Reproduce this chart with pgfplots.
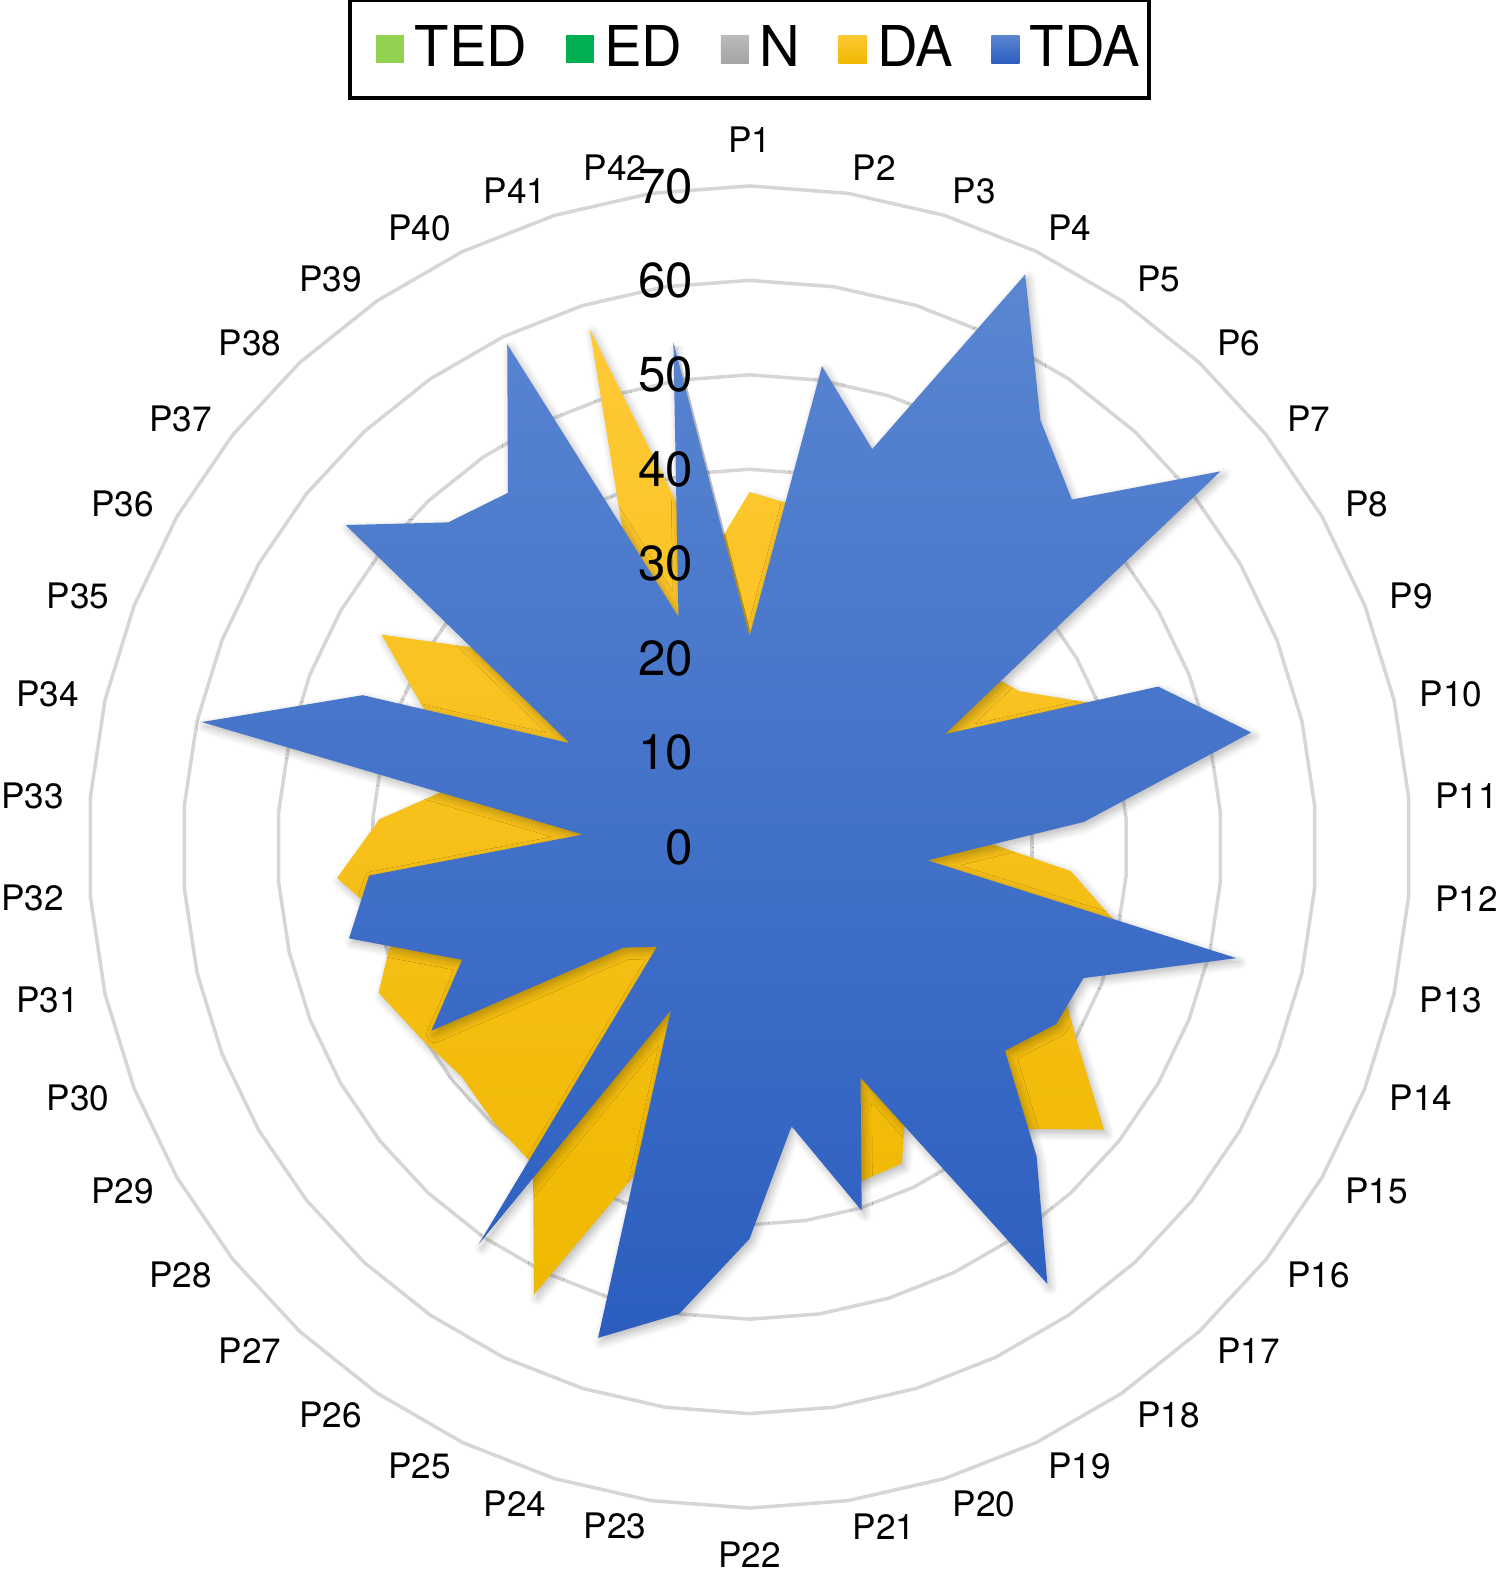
\documentclass[border=0pt]{standalone}
\usepackage{fontspec}
\setmainfont{TeX Gyre Heros}
\usepackage{pgfplots}
\pgfplotsset{compat=1.18}
\usepackage{pgfplotstable}
\usetikzlibrary{shadows.blur}
\definecolor{ringgray}{HTML}{D6D6D6}
\definecolor{tedgreen}{HTML}{92D050}
\definecolor{edgreen}{HTML}{00B050}
\definecolor{ngray}{HTML}{A5A5A5}
\definecolor{datop}{HTML}{FFC936}
\definecolor{dabot}{HTML}{EFB800}
\definecolor{tdatop}{HTML}{5A86D1}
\definecolor{tdabot}{HTML}{2C5EC0}

\pgfplotsset{
  sqimg/.style={legend image code/.code={\path[##1, draw=none] (0cm,-0.14cm) rectangle (0.28cm,0.14cm); \path (0.32cm,0cm);}},
  firstsqimg/.style={legend image code/.code={\path[##1, draw=none] (0cm,-0.14cm) rectangle (0.28cm,0.14cm); \path (-0.24cm,0cm) (0.32cm,0cm);}},
  softshadow/.style={forget plot, draw=none, blur shadow={shadow xshift=0.03cm, shadow yshift=-0.04cm, shadow blur radius=0.08cm, shadow blur steps=6, shadow opacity=28}},
}

% one row per spoke P1..P42, values in chart units (0..70)
\pgfplotstableread{
k TED ED N DA TDA
1 5 3 9 37.6 22.3
2 6 4 11 36.4 51.5
3 4 5 8 34 44.1
4 7 3 12 38 67.3
5 5 6 10 35 54.7
6 3 4 9 32 50.2
7 6 5 13 30.6 63.8
8 4 3 8 33 23.9
9 5 6 11 40.9 46.5
10 7 4 10 33 54.5
11 3 5 9 21.9 35.5
12 4 3 7 34.1 18.9
13 6 5 12 40.8 52.9
14 5 4 10 35 38
15 4 6 11 39.8 37.5
16 6 3 9 48 34.6
17 5 5 12 40.7 44.7
18 7 4 10 29.7 56
19 3 5 8 37.2 27.1
20 5 3 11 37.4 40.3
21 4 4 9 25 29.9
22 6 5 12 35 41.5
23 5 4 10 38 50
24 4 6 11 33.5 54.4
25 3 3 8 52.6 19.2
26 5 4 10 40.7 50.9
27 4 3 7 39.8 14.4
28 3 4 8 39 17.1
29 5 5 11 40.3 38.9
30 6 4 10 42.2 32.7
31 4 5 12 38.6 43.5
32 5 3 11 43.8 40.4
33 3 4 9 39.3 17.7
34 6 5 13 31 59.5
35 5 4 10 36.2 44
36 4 3 9 45 22
37 6 5 12 33.1 54.7
38 5 4 11 30 46.9
39 4 5 10 28 45.4
40 6 3 12 27.7 59.1
41 3 4 8 57.4 25.5
42 5 5 11 30.4 54.1
}\radar

% spoke angle, P1 at the top, clockwise
\newcommand{\ang}{(90-(\thisrow{k}-1)*360/42)}

\begin{document}
\begin{tikzpicture}
% polygon rings behind the series
\foreach \r in {10,20,...,70}{
  \draw[ringgray, line width=1pt] (90:\r*0.09443) \foreach \j in {1,...,41}{ -- ({90-\j*360/42}:\r*0.09443) } -- cycle;
}
\begin{axis}[
  at={(0,0)}, anchor=center,
  scale only axis, width=13.22cm, height=13.22cm,
  xmin=-70, xmax=70, ymin=-70, ymax=70,
  hide axis, clip=false,
  legend columns=5,
  legend style={at={(0.5,1.1036)}, anchor=center, draw=black, line width=1.1pt,
    font=\fontsize{16}{18}\selectfont, inner xsep=0.02cm, inner ysep=0.19cm,
    nodes={inner sep=0.065cm},
    /tikz/every even column/.append style={column sep=0.32cm}},
  sqimg,
]
\addplot[draw=none, fill=tedgreen, firstsqimg]
  table[x expr={\thisrow{TED}*cos\ang}, y expr={\thisrow{TED}*sin\ang}] {\radar};
\addlegendentry{TED}
\addplot[draw=none, fill=edgreen] table[x expr={\thisrow{ED}*cos\ang}, y expr={\thisrow{ED}*sin\ang}] {\radar};
\addlegendentry{ED}
\addplot[draw=none, top color=ngray!75, bottom color=ngray] table[x expr={\thisrow{N}*cos\ang}, y expr={\thisrow{N}*sin\ang}] {\radar};
\addlegendentry{N}
\addplot[softshadow] table[x expr={\thisrow{DA}*cos\ang}, y expr={\thisrow{DA}*sin\ang}] {\radar};
\addplot[draw=none, top color=datop, bottom color=dabot]
  table[x expr={\thisrow{DA}*cos\ang}, y expr={\thisrow{DA}*sin\ang}] {\radar};
\addlegendentry{DA}
\addplot[softshadow] table[x expr={\thisrow{TDA}*cos\ang}, y expr={\thisrow{TDA}*sin\ang}] {\radar};
\addplot[draw=none, top color=tdatop, bottom color=tdabot]
  table[x expr={\thisrow{TDA}*cos\ang}, y expr={\thisrow{TDA}*sin\ang}] {\radar};
\addlegendentry{TDA}
\end{axis}
% radial value labels
\foreach \r in {0,10,...,70}{
  \node[anchor=east, inner sep=0pt, font=\fontsize{14}{16}\selectfont] at (-0.56, \r*0.09443) {\r};
}
% spoke labels: right half hang from the left edge, left half from the right edge
\foreach \k in {1,...,42}{
  \pgfmathsetmacro\a{90-(\k-1)*360/42}
  \ifnum\k=1 \def\an{south}\def\R{6.94}\else
  \ifnum\k=22 \def\an{north}\def\R{6.94}\else
  \ifnum\k<22 \def\an{west}\def\R{6.87}\else
  \def\an{east}\def\R{6.87}\fi\fi\fi
  \node[anchor=\an, inner sep=0pt, font=\fontsize{10}{12}\selectfont] at (\a:\R) {P\k};
}
\pgfresetboundingbox
\path[use as bounding box] (-7.495,-7.29) rectangle (7.505,8.47);
\end{tikzpicture}
\end{document}
